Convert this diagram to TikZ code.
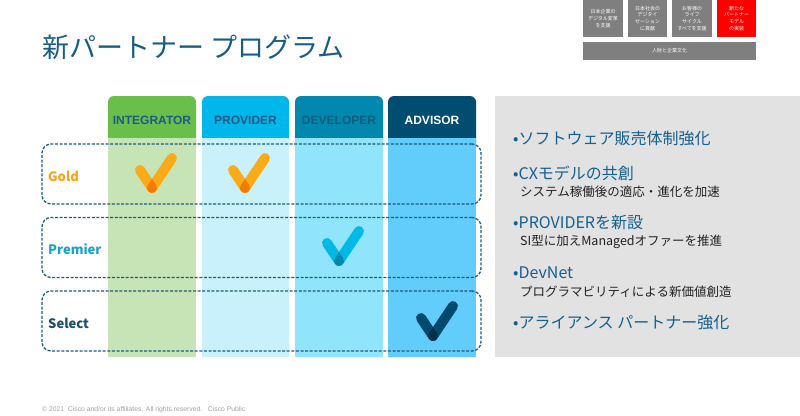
\documentclass[tikz,border=0pt]{standalone}
\usepackage{fontspec}
\setmainfont{Liberation Sans}
\newfontfamily\jpfont{Noto Sans CJK JP}
\usepackage{tikz}
\usetikzlibrary{positioning}
\usepackage{xcolor}
\definecolor{titleblue}{HTML}{175D88}
\definecolor{topgray}{HTML}{7F7F7F}
\definecolor{topred}{HTML}{FF0000}
\definecolor{intgreen}{HTML}{6ABF4B}
\definecolor{intlight}{HTML}{C6E4B6}
\definecolor{procyan}{HTML}{00B7EB}
\definecolor{prolight}{HTML}{C8F1FC}
\definecolor{devteal}{HTML}{0088AE}
\definecolor{devlight}{HTML}{90E4FC}
\definecolor{advnavy}{HTML}{004D71}
\definecolor{advlight}{HTML}{62CCFB}
\definecolor{headtext}{HTML}{1D5A86}
\definecolor{devtext}{HTML}{0E5E80}
\definecolor{rowline}{HTML}{1D5B7E}
\definecolor{goldtext}{HTML}{F9A51A}
\definecolor{premtext}{HTML}{1BA2CC}
\definecolor{seltext}{HTML}{1E4E6E}
\definecolor{tickgold}{HTML}{FBAB18}
\definecolor{tickgolddark}{HTML}{F47A00}
\definecolor{tickcyan}{HTML}{00B9E4}
\definecolor{tickcyandark}{HTML}{0089AA}
\definecolor{ticknavy}{HTML}{004B6D}
\definecolor{ticknavydark}{HTML}{00304A}
\definecolor{panelgray}{HTML}{E2E2E2}
\definecolor{pointblue}{HTML}{14608F}
\definecolor{subdark}{HTML}{222222}
\definecolor{footgray}{HTML}{A0A0A0}
\tikzset{
    title/.style={
        anchor=west,
        inner sep=0pt,
        text=titleblue,
        font=\jpfont\fontsize{27}{30}\selectfont
    },
    topbox/.style={
        fill=topgray,
        text=white,
        align=center,
        inner sep=0pt,
        minimum width=39.5pt,
        minimum height=37pt,
        font=\jpfont\fontsize{5}{6.8}\selectfont
    },
    colhead/.style={
        inner sep=0pt,
        font=\bfseries\fontsize{12}{14}\selectfont
    },
    rowbox/.style={
        draw=rowline,
        dash pattern=on 3pt off 1.6pt,
        line width=1.3pt,
        rounded corners=9pt,
        minimum width=439pt,
        minimum height=60pt,
        inner sep=0pt
    },
    rowlabel/.style={
        anchor=west,
        inner sep=0pt,
        font=\jpfont\bfseries\fontsize{13}{15}\selectfont
    },
    point/.style={
        anchor=west,
        inner sep=0pt,
        text=pointblue,
        font=\jpfont\fontsize{16}{18}\selectfont
    },
    subpoint/.style={
        anchor=west,
        inner sep=0pt,
        text=subdark,
        font=\jpfont\fontsize{12.5}{14}\selectfont
    },
    footer/.style={
        anchor=west,
        inner sep=0pt,
        text=footgray,
        font=\fontsize{6.8}{8}\selectfont
    },
    pics/tick/.style n args={2}{code={
        \begin{scope}[y=1pt]
        \draw[line width=10pt, line cap=round, line join=round, draw=#1]
            (123.7:21.6) -- (0,0) -- (56.3:36);
        \fill[#2] (0,9) -- (33.7:5) arc[start angle=33.7, end angle=-213.7, radius=5] -- cycle;
        \end{scope}
    }}
}

\begin{document}
\begin{tikzpicture}[x=1pt,y=-1pt]
  \useasboundingbox (0,0) rectangle (800,415);

  % title
  \node[title] (ttl) at (42,47) {新パートナー プログラム};

  % strategy boxes, top right
  \node[topbox] (t1) at (603,18.5) {日本企業の\\デジタル変革\\を支援};
  \node[topbox] (t2) at (647.5,18.5) {日本社会の\\デジタイ\\ゼーション\\に貢献};
  \node[topbox] (t3) at (692,18.5) {お客様の\\ライフ\\サイクル\\すべてを支援};
  \node[topbox, fill=topred] (t4) at (736.5,18.5) {新たな\\パートナー\\モデル\\の実装};
  \node[topbox, minimum width=173pt, minimum height=18pt] (t5) at (669.5,51) {人財と企業文化};

  % columns
  \fill[intgreen, rounded corners=6pt] (108,96) rectangle (196,150);
  \fill[intlight] (108,138) rectangle (196,357);
  \node[colhead, text=headtext] (hInt) at (152,120) {INTEGRATOR};

  \fill[procyan, rounded corners=6pt] (202,96) rectangle (289,150);
  \fill[prolight] (202,138) rectangle (289,357);
  \node[colhead, text=headtext] (hPro) at (245.5,120) {PROVIDER};

  \fill[devteal, rounded corners=6pt] (295,96) rectangle (383,150);
  \fill[devlight] (295,138) rectangle (383,357);
  \node[colhead, text=devtext] (hDev) at (339,120) {DEVELOPER};

  \fill[advnavy, rounded corners=6pt] (388,96) rectangle (476,150);
  \fill[advlight] (388,138) rectangle (476,357);
  \node[colhead, text=white] (hAdv) at (432,120) {ADVISOR};

  % partner levels
  \node[rowbox] (gold) at (261.5,174) {};
  \node[rowbox] (premier) at (261.5,247.5) {};
  \node[rowbox] (select) at (261.5,321) {};

  \node[rowlabel, text=goldtext] (lGold) at (48,176) {Gold};
  \node[rowlabel, text=premtext] (lPremier) at (48,249) {Premier};
  \node[rowlabel, text=seltext] (lSelect) at (48,323) {Select};

  \pic at (152,188) {tick={tickgold}{tickgolddark}};
  \pic at (245,188) {tick={tickgold}{tickgolddark}};
  \pic at (339,261) {tick={tickcyan}{tickcyandark}};
  \pic at (433,336) {tick={ticknavy}{ticknavydark}};

  % key points
  \fill[panelgray] (495,96) rectangle (800,357);
  \node[point] (p1) at (513,138) {•ソフトウェア販売体制強化};
  \node[point] (p2) at (513,173) {•CXモデルの共創};
  \node[subpoint] (s2) at (520,192) {システム稼働後の適応・進化を加速};
  \node[point] (p3) at (513,222) {•PROVIDERを新設};
  \node[subpoint] (s3) at (520,242) {SI型に加えManagedオファーを推進};
  \node[point] (p4) at (513,273) {•DevNet};
  \node[subpoint] (s4) at (520,292) {プログラマビリティによる新価値創造};
  \node[point] (p5) at (513,322) {•アライアンス パートナー強化};

  \node[footer] (ftr) at (42,410) {© 2021\ \ Cisco and/or its affiliates. All rights reserved.\ \ \ Cisco Public};

\end{tikzpicture}
\end{document}
